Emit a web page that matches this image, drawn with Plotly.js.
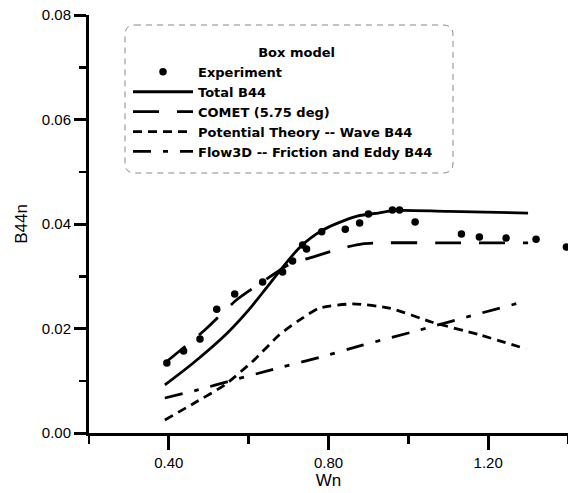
<!DOCTYPE html>
<html>
<head>
<meta charset="utf-8">
<script src="https://cdn.plot.ly/plotly-3.0.1.min.js"></script>
<style>html,body{margin:0;padding:0;background:#fff;}#chart{width:568px;height:493px;}</style>
</head>
<body>
<div id="chart"></div>
<script>
// Experiment points
const expX = [0.395, 0.437, 0.478, 0.52, 0.565, 0.635, 0.685, 0.71, 0.735, 0.745, 0.783, 0.842, 0.878, 0.90, 0.96, 0.978, 1.017, 1.133, 1.178, 1.245, 1.32, 1.396];
const expY = [0.0134, 0.0157, 0.018, 0.0237, 0.0266, 0.0289, 0.0308, 0.0329, 0.036, 0.0352, 0.0385, 0.039, 0.0402, 0.0419, 0.0427, 0.0427, 0.0404, 0.0381, 0.0375, 0.0373, 0.0371, 0.0356];

// Total B44
const totX = [0.39, 0.461, 0.546, 0.604, 0.654, 0.729, 0.787, 0.872, 0.925, 0.97, 1.10, 1.30];
const totY = [0.0092, 0.0134, 0.0191, 0.0239, 0.0287, 0.0356, 0.0389, 0.0415, 0.0421, 0.0426, 0.0424, 0.0421];

// COMET (5.75 deg)
const cometX = [0.39, 0.49, 0.57, 0.63, 0.70, 0.77, 0.835, 0.885, 0.95, 1.10, 1.30];
const cometY = [0.0134, 0.0197, 0.0255, 0.0287, 0.0322, 0.0339, 0.0354, 0.0362, 0.0364, 0.0364, 0.0364];

// Potential Theory -- Wave B44
const potX = [0.39, 0.463, 0.54, 0.614, 0.677, 0.727, 0.777, 0.86, 0.953, 1.06, 1.178, 1.295];
const potY = [0.0025, 0.0057, 0.0092, 0.014, 0.0188, 0.0216, 0.0239, 0.0247, 0.0239, 0.0212, 0.0188, 0.0161];

// Flow3D -- Friction and Eddy B44
const flowX = [0.39, 0.47, 0.56, 0.672, 0.784, 0.885, 1.028, 1.146, 1.288];
const flowY = [0.0067, 0.0082, 0.0101, 0.0124, 0.0146, 0.0168, 0.0197, 0.0222, 0.0251];

const xTickVals = [0.4, 0.8, 1.2];
const xTickText = ['0.40', '0.80', '1.20'];
const yTickVals = [0, 0.02, 0.04, 0.06, 0.08];
const yTickText = ['0.00', '0.02', '0.04', '0.06', '0.08'];

const names = ['Experiment', 'Total B44', 'COMET (5.75 deg)', 'Potential Theory -- Wave B44', 'Flow3D -- Friction and Eddy B44'];

const W = 568, H = 493;
const M = {l: 89, r: 0, t: 15, b: 60};
const pw = W - M.l - M.r, ph = H - M.t - M.b;
const px2x = p => (p - M.l) / pw;
const py2y = p => (H - M.b - p) / ph;

function roundRect(x0, y0, x1, y1, r) {
  const rx = r / pw, ry = r / ph;
  const X0 = px2x(x0), X1 = px2x(x1), Y0 = py2y(y0), Y1 = py2y(y1);
  return `M${X0 + rx},${Y0} L${X1 - rx},${Y0} Q${X1},${Y0} ${X1},${Y0 - ry} ` +
         `L${X1},${Y1 + ry} Q${X1},${Y1} ${X1 - rx},${Y1} L${X0 + rx},${Y1} ` +
         `Q${X0},${Y1} ${X0},${Y1 + ry} L${X0},${Y0 - ry} Q${X0},${Y0} ${X0 + rx},${Y0} Z`;
}

const lw = 2.8;
const traces = [
  {x: expX, y: expY, name: names[0], mode: 'markers', type: 'scatter',
   marker: {color: '#000', size: 7.5, symbol: 'circle'}},
  {x: totX, y: totY, name: names[1], mode: 'lines', type: 'scatter',
   line: {color: '#000', width: lw, shape: 'spline', smoothing: 0.8}},
  {x: cometX, y: cometY, name: names[2], mode: 'lines', type: 'scatter',
   line: {color: '#000', width: lw, dash: '26px,18px', shape: 'spline', smoothing: 0.6}},
  {x: potX, y: potY, name: names[3], mode: 'lines', type: 'scatter',
   line: {color: '#000', width: lw, dash: '9px,6px', shape: 'spline', smoothing: 0.6}},
  {x: flowX, y: flowY, name: names[4], mode: 'lines', type: 'scatter',
   line: {color: '#000', width: lw, dash: '18px,12px,5px,12px', shape: 'spline', smoothing: 0.6}}
];

const font = 'Liberation Sans, Arial, Helvetica, sans-serif';
const lfont = 'DejaVu Sans, Liberation Sans, Arial, sans-serif';
const layout = {
  width: W, height: H,
  margin: M,
  paper_bgcolor: '#fff', plot_bgcolor: '#fff',
  font: {family: font, color: '#000', size: 15},
  showlegend: true,
  legend: {
    x: px2x(128), y: py2y(40), xanchor: 'left', yanchor: 'top',
    bgcolor: 'rgba(0,0,0,0)', borderwidth: 0,
    font: {family: lfont, size: 13, color: '#000', weight: 'bold'},
    title: {text: '&nbsp;&nbsp;&nbsp;&nbsp;&nbsp;&nbsp;<b>Box model</b>', side: 'top center', font: {family: lfont, size: 13, color: '#000'}},
    itemwidth: 60, tracegroupgap: 0
  },
  xaxis: {
    range: [0.2, 1.4], showgrid: false, zeroline: false,
    showline: true, linecolor: '#000', linewidth: 3,
    ticks: 'outside', ticklen: 14, tickwidth: 3, tickcolor: '#000',
    tickvals: xTickVals, ticktext: xTickText,
    tickfont: {family: font, size: 15, color: '#000'},
    minor: {dtick: 0.2, tick0: 0.2, ticks: 'outside', ticklen: 8, tickwidth: 2.5, tickcolor: '#000', showgrid: false},
    title: {text: 'Wn', font: {family: font, size: 17, color: '#000'}, standoff: 4}
  },
  yaxis: {
    range: [0, 0.08], showgrid: false, zeroline: false,
    showline: true, linecolor: '#000', linewidth: 3,
    ticks: 'outside', ticklen: 12, tickwidth: 3, tickcolor: '#000',
    tickvals: yTickVals, ticktext: yTickText,
    tickfont: {family: font, size: 15, color: '#000'},
    minor: {dtick: 0.01, tick0: 0.01, ticks: 'outside', ticklen: 7, tickwidth: 2.5, tickcolor: '#000', showgrid: false},
    title: {text: 'B44n', font: {family: font, size: 17, color: '#000'}, standoff: 10}
  },
  shapes: [{
    type: 'path', xref: 'paper', yref: 'paper',
    path: roundRect(125, 25, 453, 173, 10),
    line: {color: '#888', width: 1, dash: '6px,5px'}
  }]
};

Plotly.newPlot('chart', traces, layout, {displayModeBar: false, staticPlot: true});
</script>
</body>
</html>
